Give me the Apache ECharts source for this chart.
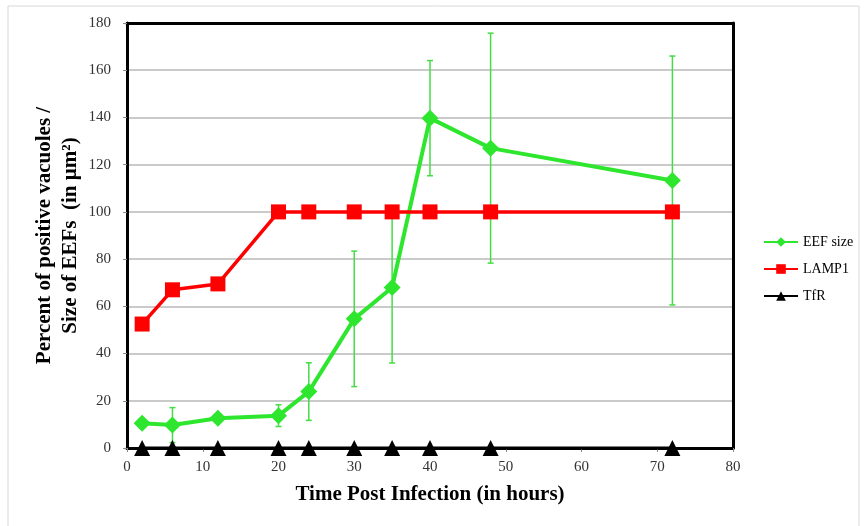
<!DOCTYPE html>
<html><head><meta charset="utf-8">
<script src="https://cdn.jsdelivr.net/npm/echarts@6/dist/echarts.min.js"></script>
<style>html,body{margin:0;padding:0;background:#fff}#c{width:864px;height:526px}</style>
</head><body><div id="c"></div>
<script>
const hours = [2, 6, 12, 20, 24, 30, 35, 40, 48, 72];
const eefSize = [10.5, 9.7, 12.6, 13.7, 23.9, 54.7, 68, 139.7, 127, 113.3];
const eefErr = [0, 7.4, 0, 4.6, 12.2, 28.7, 32, 24.4, 48.7, 52.7];
const lamp1 = [52.5, 67, 69.5, 100, 100, 100, 100, 100, 100, 100];
const tfr = [0, 0, 0, 0, 0, 0, 0, 0, 0, 0];
const yTicks = [0, 20, 40, 60, 80, 100, 120, 140, 160, 180];
const xTicks = [0, 10, 20, 30, 40, 50, 60, 70, 80];

const GREEN = '#2ee62e';
const font = 'Liberation Serif, Times New Roman, serif';
const pair = (xs, ys) => xs.map((x, i) => [x, ys[i]]);
const errData = hours.map((h, i) => [h, eefSize[i] - eefErr[i], eefSize[i] + eefErr[i]]).filter((d, i) => eefErr[i] > 0);
const xMin = xTicks[0], xMax = xTicks[xTicks.length - 1];
const yMin = yTicks[0], yMax = yTicks[yTicks.length - 1];
const frameLine = {show: true, onZero: false, lineStyle: {color: '#000', width: 3}};

const chart = echarts.init(document.getElementById('c'));
chart.setOption({
  animation: false,
  backgroundColor: '#fff',
  graphic: [{type: 'rect', shape: {x: 8, y: 6, width: 851, height: 521}, style: {fill: 'none', stroke: '#d8d8d8', lineWidth: 1}, silent: true, z: -10}],
  grid: {left: 127, right: 131, top: 23, bottom: 78, containLabel: false},
  legend: {
    orient: 'vertical', left: 758, top: 230, itemGap: 13, itemWidth: 34, itemHeight: 12,
    textStyle: {fontFamily: font, fontSize: 14, color: '#000'},
    data: ['EEF size', 'LAMP1', 'TfR']
  },
  xAxis: [{
    type: 'value', min: xMin, max: xMax, interval: 10,
    name: 'Time Post Infection (in hours)', nameLocation: 'middle', nameGap: 36, nameMoveOverlap: false,
    nameTextStyle: {fontFamily: font, fontSize: 21, fontWeight: 'bold', color: '#000'},
    axisLine: frameLine,
    axisTick: {show: true, length: 4, lineStyle: {color: '#888'}},
    axisLabel: {fontFamily: font, fontSize: 15, color: '#333', margin: 12},
    splitLine: {show: false}
  }, {
    type: 'value', position: 'top', min: xMin, max: xMax, interval: 10,
    axisLine: frameLine, axisTick: {show: false}, axisLabel: {show: false}, splitLine: {show: false}
  }],
  yAxis: [{
    type: 'value', min: yMin, max: yMax, interval: 20,
    name: 'Percent of positive vacuoles /\nSize of EEFs  (in µm²)', nameLocation: 'middle', nameGap: 43, nameRotate: 90, nameMoveOverlap: false,
    nameTextStyle: {fontFamily: font, fontSize: 21, fontWeight: 'bold', color: '#000', lineHeight: 26},
    axisLine: frameLine,
    axisTick: {show: true, length: 4, lineStyle: {color: '#888'}},
    axisLabel: {fontFamily: font, fontSize: 15, color: '#333', margin: 16},
    splitLine: {show: true, lineStyle: {color: '#b8b8b8', width: 1.5}}
  }, {
    type: 'value', position: 'right', min: yMin, max: yMax, interval: 20,
    axisLine: frameLine, axisTick: {show: false}, axisLabel: {show: false}, splitLine: {show: false}
  }],
  series: [
    {
      name: 'EEF size', type: 'line', data: pair(hours, eefSize), color: GREEN,
      symbol: 'diamond', symbolSize: 17, lineStyle: {color: GREEN, width: 4}, itemStyle: {color: GREEN}, z: 5
    },
    {
      name: 'errbars', type: 'custom', data: errData, z: 4, clip: false,
      renderItem: (params, api) => {
        const x = api.value(0);
        const lo = api.coord([x, api.value(1)]);
        const hi = api.coord([x, api.value(2)]);
        const w = 3;
        const st = {stroke: '#44dd44', lineWidth: 1.5};
        return {type: 'group', children: [
          {type: 'line', shape: {x1: lo[0], y1: lo[1], x2: hi[0], y2: hi[1]}, style: st},
          {type: 'line', shape: {x1: lo[0] - w, y1: lo[1], x2: lo[0] + w, y2: lo[1]}, style: st},
          {type: 'line', shape: {x1: hi[0] - w, y1: hi[1], x2: hi[0] + w, y2: hi[1]}, style: st}
        ]};
      }
    },
    {
      name: 'LAMP1', type: 'line', data: pair(hours, lamp1), color: '#ff0000',
      symbol: 'rect', symbolSize: 15, lineStyle: {color: '#ff0000', width: 3.5}, itemStyle: {color: '#ff0000'}, z: 6
    },
    {
      name: 'TfR', type: 'line', data: pair(hours, tfr), color: '#000',
      symbol: 'triangle', symbolSize: 16, lineStyle: {color: '#000', width: 3}, itemStyle: {color: '#000'}, z: 7, clip: false
    }
  ]
});
</script></body></html>
